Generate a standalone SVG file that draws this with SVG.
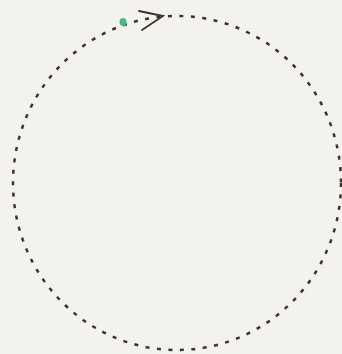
<svg xmlns="http://www.w3.org/2000/svg" width="342" height="354" viewBox="0 0 342 354">
<style>
.orbit{fill:none;stroke:#3b332d;stroke-width:2.5;stroke-dasharray:4 7.5}
.arrow{fill:none;stroke:#3b332d;stroke-width:1.8;stroke-linecap:round}
</style>
<rect width="342" height="354" fill="#f4f2ec"/>
<g id="connectors">
<ellipse class="orbit" cx="177" cy="183" rx="164" ry="167"/>
<path class="arrow" d="M139 11 L163 16 L142 30"/>
</g>
<g id="start">
<ellipse cx="123" cy="22" rx="3.5" ry="4" fill="#3cbf82"/>
</g>
</svg>
